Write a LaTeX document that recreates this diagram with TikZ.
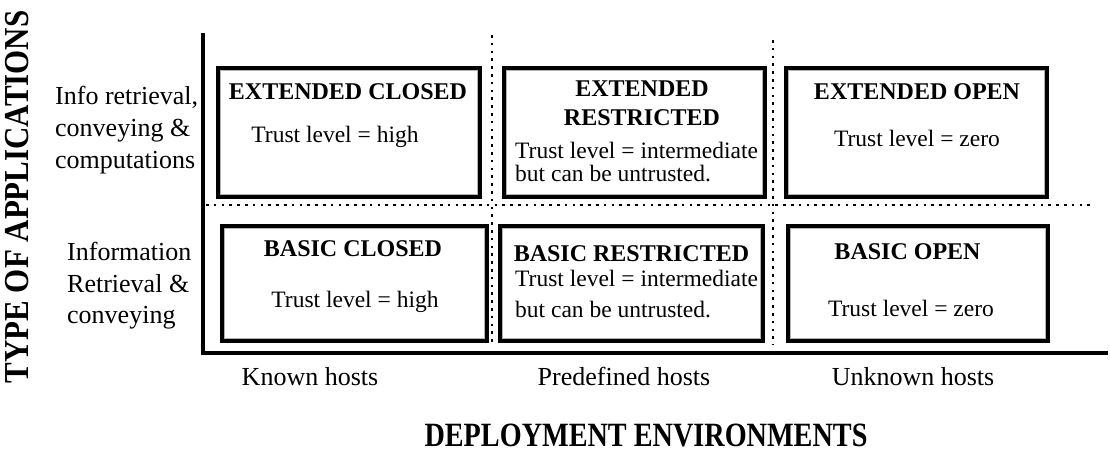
\documentclass[tikz,border=0pt]{standalone}
\usepackage{fontspec}
\setmainfont{Liberation Serif}
\begin{document}
\begin{tikzpicture}[x=1bp,y=-1bp,
  boxf/.style={draw=black,line width=3.5bp,inner sep=0pt,outer sep=0pt,anchor=north west,
    path picture={\draw[gray!60,line width=1.3bp]
      ([shift={(2.7,2.7)}]path picture bounding box.north west) rectangle
      ([shift={(-2.7,-2.7)}]path picture bounding box.south east);}},
  ttl/.style={inner sep=0pt,font=\bfseries\fontsize{24bp}{28bp}\selectfont},
  txt/.style={inner sep=0pt,font=\fontsize{23.5bp}{28bp}\selectfont},
  lab/.style={inner sep=0pt,font=\fontsize{26bp}{30bp}\selectfont},
  axis/.style={line width=4bp,black,line join=miter},
  dotline/.style={line width=2.6bp,dash pattern=on 2.6bp off 5.2bp}]
\useasboundingbox (0,0) rectangle (1110,452);

% axes
\coordinate (ytop) at (203,33);
\coordinate (origin) at (203,353);
\coordinate (xend) at (1108,353);
\draw[axis] (ytop) -- (origin) -- (xend);

% dotted grid lines
\coordinate (h1) at (206,205);
\coordinate (h2) at (1090,205);
\coordinate (va1) at (492,35);
\coordinate (va2) at (492,345);
\coordinate (vb1) at (773,40);
\coordinate (vb2) at (773,345);
\draw[dotline] (h1) -- (h2);
\draw[dotline] (va1) -- (va2);
\draw[dotline] (vb1) -- (vb2);

% boxes
\node[boxf,minimum width=262bp,minimum height=129bp] (b1) at (218,68) {};
\node[boxf,minimum width=261bp,minimum height=129bp] (b2) at (504,68) {};
\node[boxf,minimum width=261bp,minimum height=129bp] (b3) at (786,68) {};
\node[boxf,minimum width=265bp,minimum height=115bp] (b4) at (222,226) {};
\node[boxf,minimum width=263bp,minimum height=115bp] (b5) at (500,226) {};
\node[boxf,minimum width=260bp,minimum height=115bp] (b6) at (788,226) {};

% box texts
\node[ttl,anchor=base] (t1) at (348,100) {EXTENDED CLOSED};
\node[txt,anchor=base] (s1) at (335,143) {Trust level = high};

\node[ttl,anchor=base] (t2a) at (642,97) {EXTENDED};
\node[ttl,anchor=base] (t2b) at (642,126) {RESTRICTED};
\node[txt,anchor=base west] (s2a) at (515,159) {Trust level = intermediate};
\node[txt,anchor=base west] (s2b) at (515,182) {but can be untrusted.};

\node[ttl,anchor=base] (t3) at (917,100) {EXTENDED OPEN};
\node[txt,anchor=base] (s3) at (917,147) {Trust level = zero};

\node[ttl,anchor=base] (t4) at (353,257) {BASIC CLOSED};
\node[txt,anchor=base] (s4) at (355,308) {Trust level = high};

\node[ttl,anchor=base] (t5) at (631.5,262) {BASIC RESTRICTED};
\node[txt,anchor=base west] (s5a) at (515,287) {Trust level = intermediate};
\node[txt,anchor=base west] (s5b) at (515,318) {but can be untrusted.};

\node[ttl,anchor=base] (t6) at (907.5,260) {BASIC OPEN};
\node[txt,anchor=base] (s6) at (911,317) {Trust level = zero};

% row labels
\node[lab,anchor=base west] (r1a) at (55,105) {Info retrieval,};
\node[lab,anchor=base west] (r1b) at (55,137) {conveying \&};
\node[lab,anchor=base west] (r1c) at (55,169) {computations};
\node[lab,anchor=base west] (r2a) at (67,261) {Information};
\node[lab,anchor=base west] (r2b) at (67,293) {Retrieval \&};
\node[lab,anchor=base west] (r2c) at (67,324) {conveying};

% column labels
\node[lab,anchor=base] (c1) at (310,386) {Known hosts};
\node[lab,anchor=base] (c2) at (624,386) {Predefined hosts};
\node[lab,anchor=base] (c3) at (913,386) {Unknown hosts};

% axis titles
\node[inner sep=0pt,anchor=base,font=\bfseries\fontsize{34bp}{36bp}\selectfont] (xt) at (646,446)
  {\scalebox{0.83}[1]{DEPLOYMENT ENVIRONMENTS}};
\node[inner sep=0pt,anchor=center,rotate=90,font=\bfseries\fontsize{35bp}{36bp}\selectfont] (yt) at (17,197)
  {\scalebox{0.885}[1]{TYPE OF APPLICATIONS}};
\end{tikzpicture}
\end{document}
